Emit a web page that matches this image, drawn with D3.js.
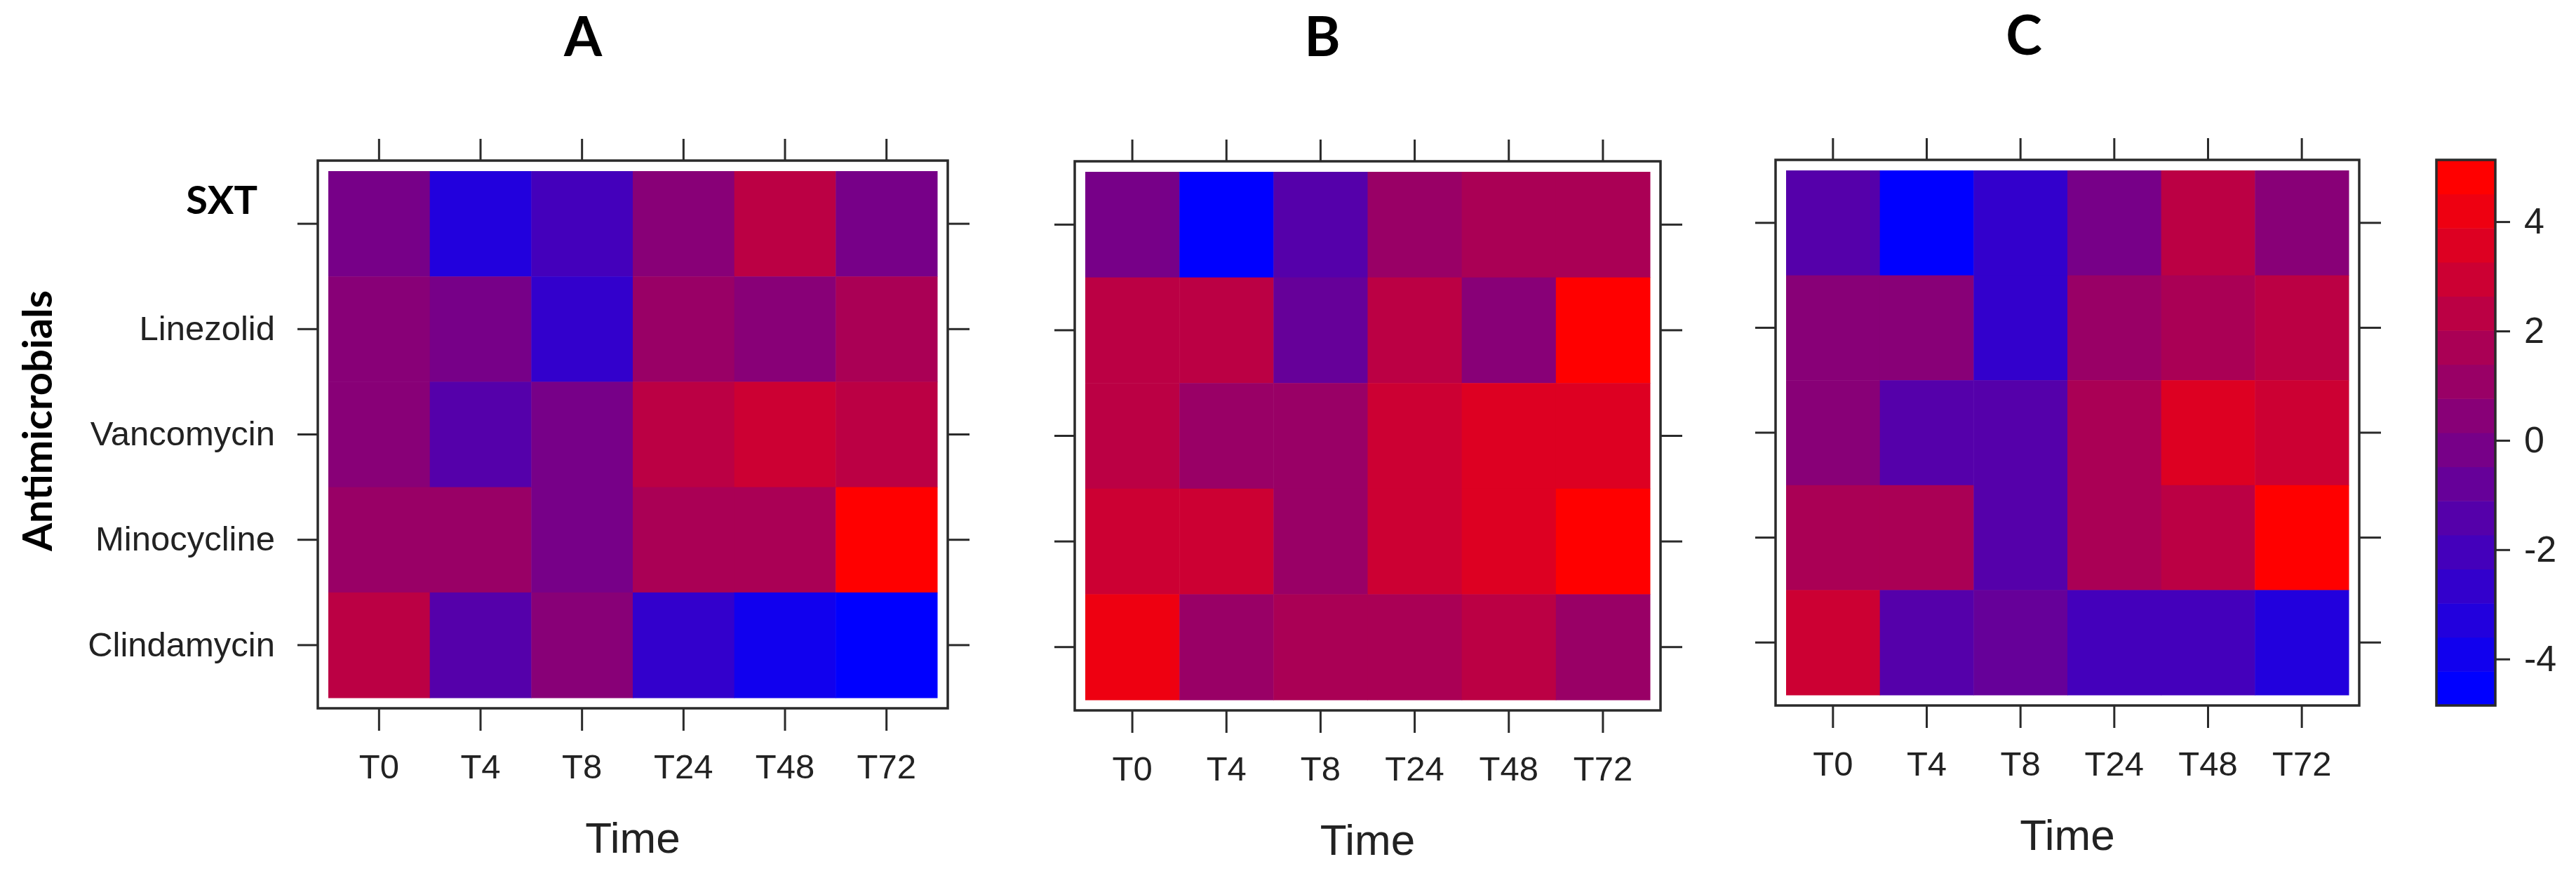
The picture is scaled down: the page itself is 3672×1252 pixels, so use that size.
<!DOCTYPE html>
<html>
<head>
<meta charset="utf-8">
<script src="https://cdn.jsdelivr.net/npm/d3@7"></script>
<style>
  html, body { margin: 0; padding: 0; background: #fff; }
  svg { display: block; }
</style>
</head>
<body>
<svg id="chart" width="3672" height="1252"></svg>
<script>
// ---------------- DATA ----------------
const antimicrobials = ["SXT", "Linezolid", "Vancomycin", "Minocycline", "Clindamycin"];
const timePoints = ["T0", "T4", "T8", "T24", "T48", "T72"];
const panelTitles = ["A", "B", "C"];

// rows follow antimicrobials, columns follow timePoints
const valuesA = [
  [-0.2, -3.3, -2.0,  0.5,  2.3, -0.2],
  [ 0.5, -0.2, -2.7,  1.1,  0.5,  1.7],
  [ 0.5, -1.4, -0.2,  2.3,  3.0,  2.3],
  [ 1.1,  1.1, -0.2,  1.7,  1.7,  4.8],
  [ 2.3, -1.4,  0.5, -2.7, -3.9, -4.5]
];
const valuesB = [
  [-0.2, -4.5, -1.4,  1.1,  1.7,  1.7],
  [ 2.3,  2.3, -0.8,  2.3,  0.5,  4.8],
  [ 2.3,  1.1,  1.1,  3.0,  3.6,  3.6],
  [ 3.0,  3.0,  1.1,  3.0,  3.6,  4.8],
  [ 4.2,  1.1,  1.7,  1.7,  2.3,  1.1]
];
const valuesC = [
  [-1.4, -4.5, -2.7, -0.2,  2.3,  0.5],
  [ 0.5,  0.5, -2.7,  1.1,  1.7,  2.3],
  [ 0.5, -1.4, -1.4,  1.7,  3.6,  3.0],
  [ 1.7,  1.7, -1.4,  1.7,  2.3,  4.8],
  [ 3.0, -1.4, -0.8, -2.0, -2.0, -3.3]
];
const panelValues = [valuesA, valuesB, valuesC];

const legendTicks = [-4, -2, 0, 2, 4];
const legendRange = [-4.85, 5.13];
const legendLevels = 16;

const xAxisTitle = "Time";
const yAxisTitle = "Antimicrobials";

// ---------------- LAYOUT ----------------
const panelFrames = [
  { x0: 453,  y0: 229, x1: 1351, y1: 1010, titleX: 831,  titleY: 80 },
  { x0: 1532, y0: 230, x1: 2367, y1: 1013, titleX: 1885, titleY: 80 },
  { x0: 2531, y0: 228, x1: 3363, y1: 1006, titleX: 2885, titleY: 78 }
];
const inset = 15;
const legendBox = { x0: 3473, x1: 3557, y0: 228, y1: 1006 };

const tickFont = "'Liberation Sans', Arial, sans-serif";
const boldFont = "Lato, 'Open Sans', sans-serif";
const lineColor = "#2a2a2a";

const svg = d3.select("#chart");
svg.append("rect").attr("width", 3672).attr("height", 1252).attr("fill", "#fff");

// colour scale: 16 discrete bands from blue to red
const palette = d3.range(legendLevels).map(i => d3.interpolateRgb("#0000ff", "#ff0000")(i / (legendLevels - 1)));
const color = d3.scaleQuantize().domain(legendRange).range(palette);

function styleAxis(g) {
  g.select(".domain").remove();
  g.selectAll(".tick line").attr("stroke", lineColor).attr("stroke-width", 3);
  g.selectAll(".tick text").attr("fill", "#222").style("font-family", tickFont).style("font-size", "49px");
}

panelFrames.forEach((f, pi) => {
  const vals = panelValues[pi];
  const g = svg.append("g");
  const x = d3.scaleBand().domain(timePoints).range([f.x0 + inset, f.x1 - inset]).padding(0);
  const y = d3.scaleBand().domain(antimicrobials).range([f.y0 + inset, f.y1 - inset]).padding(0);

  // cells
  const cells = [];
  antimicrobials.forEach((r, ri) => timePoints.forEach((t, ti) => cells.push({ r, t, v: vals[ri][ti] })));
  g.append("g").selectAll("rect").data(cells).join("rect")
    .attr("x", d => x(d.t))
    .attr("y", d => y(d.r))
    .attr("width", x.bandwidth() + 0.5)
    .attr("height", y.bandwidth() + 0.5)
    .attr("fill", d => color(d.v));

  // frame
  g.append("rect")
    .attr("x", f.x0).attr("y", f.y0)
    .attr("width", f.x1 - f.x0).attr("height", f.y1 - f.y0)
    .attr("fill", "none").attr("stroke", lineColor).attr("stroke-width", 3.5);

  // axes
  g.append("g").attr("transform", `translate(0,${f.y0})`)
    .call(d3.axisTop(x).tickSize(31).tickFormat(""))
    .call(styleAxis);
  g.append("g").attr("transform", `translate(${f.x1},0)`)
    .call(d3.axisRight(y).tickSize(31).tickFormat(""))
    .call(styleAxis);
  const bottom = g.append("g").attr("transform", `translate(0,${f.y1})`)
    .call(d3.axisBottom(x).tickSize(32).tickPadding(0))
    .call(styleAxis);
  bottom.selectAll(".tick text").attr("y", 100).attr("dy", 0);

  const left = g.append("g").attr("transform", `translate(${f.x0},0)`)
    .call(d3.axisLeft(y).tickSize(29).tickPadding(32).tickFormat(pi === 0 ? (d => d) : ""))
    .call(styleAxis);
  if (pi === 0) {
    left.selectAll(".tick text").filter(d => d === antimicrobials[0])
      .style("font-family", boldFont).style("font-weight", "700").style("font-size", "56px")
      .attr("fill", "#000")
      .attr("x", -86).attr("dy", "0").attr("y", -14);
  }

  // panel title
  svg.append("text")
    .attr("x", f.titleX).attr("y", f.titleY)
    .attr("text-anchor", "middle")
    .style("font-family", boldFont).style("font-weight", "700").style("font-size", "78px")
    .attr("fill", "#000")
    .text(panelTitles[pi]);

  // x axis title
  svg.append("text")
    .attr("x", (f.x0 + f.x1) / 2).attr("y", f.y1 + 206)
    .attr("text-anchor", "middle")
    .style("font-family", tickFont).style("font-size", "62px")
    .attr("fill", "#222")
    .text(xAxisTitle);
});

// y axis title
svg.append("text")
  .attr("transform", "translate(74,600) rotate(-90)")
  .attr("text-anchor", "middle")
  .style("font-family", boldFont).style("font-weight", "700").style("font-size", "58px")
  .attr("fill", "#000")
  .text(yAxisTitle);

// ---------------- LEGEND ----------------
const ly = d3.scaleLinear().domain(legendRange).range([legendBox.y1, legendBox.y0]);
const step = (legendRange[1] - legendRange[0]) / legendLevels;
const bands = d3.range(legendLevels).map(i => ({ lo: legendRange[0] + i * step, hi: legendRange[0] + (i + 1) * step }));
svg.append("g").selectAll("rect").data(bands).join("rect")
  .attr("x", legendBox.x0)
  .attr("y", d => ly(d.hi))
  .attr("width", legendBox.x1 - legendBox.x0)
  .attr("height", d => ly(d.lo) - ly(d.hi) + 0.5)
  .attr("fill", d => color((d.lo + d.hi) / 2));
svg.append("rect")
  .attr("x", legendBox.x0).attr("y", legendBox.y0)
  .attr("width", legendBox.x1 - legendBox.x0).attr("height", legendBox.y1 - legendBox.y0)
  .attr("fill", "none").attr("stroke", lineColor).attr("stroke-width", 3.5);
svg.append("g").attr("transform", `translate(${legendBox.x1},0)`)
  .call(d3.axisRight(ly).tickValues(legendTicks).tickSize(21).tickPadding(20).tickFormat(d => String(d)))
  .call(styleAxis)
  .selectAll(".tick text").style("font-size", "52px");
</script>
</body>
</html>
